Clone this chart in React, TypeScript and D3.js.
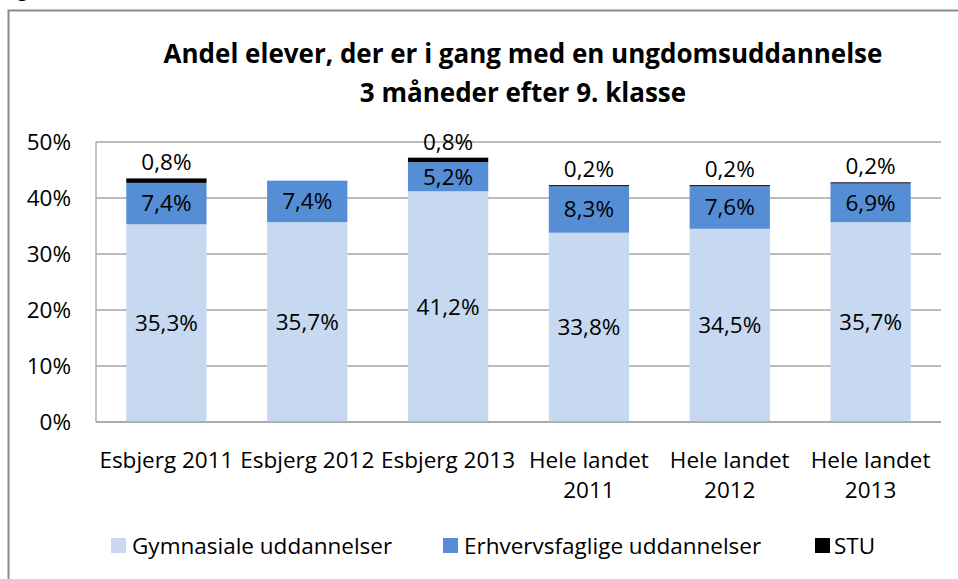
import React from 'react';
import * as d3 from 'd3';

const categories = ['Esbjerg 2011', 'Esbjerg 2012', 'Esbjerg 2013', 'Hele landet 2011', 'Hele landet 2012', 'Hele landet 2013'];
const categoryLines = [['Esbjerg 2011'], ['Esbjerg 2012'], ['Esbjerg 2013'], ['Hele landet', '2011'], ['Hele landet', '2012'], ['Hele landet', '2013']];
const gymnasiale = [35.3, 35.7, 41.2, 33.8, 34.5, 35.7];
const erhvervsfaglige = [7.4, 7.4, 5.2, 8.3, 7.6, 6.9];
const stu = [0.8, 0, 0.8, 0.2, 0.2, 0.2];
const seriesNames = ['Gymnasiale uddannelser', 'Erhvervsfaglige uddannelser', 'STU'];
const colors = ['#C6D9F1', '#558ED5', '#000000'];
const yTicks = [0, 10, 20, 30, 40, 50];
const titleLines = ['Andel elever, der er i gang med en ungdomsuddannelse', '3 måneder efter 9. klasse'];

const W = 958;
const H = 579;
const plot = { left: 96, right: 941, top: 142, bottom: 422 };
const font = '"Open Sans", Lato, sans-serif';
const fs = 22.5;

const fmt = (v: number) => v.toFixed(1).replace('.', ',') + '%';

export default function App() {
  const x = d3.scaleBand<string>().domain(categories).range([plot.left, plot.right]).paddingInner(0.43).paddingOuter(0.215);
  const y = d3.scaleLinear().domain([0, 50]).range([plot.bottom, plot.top]);

  const rows = categories.map((c, i) => ({ cat: c, g: gymnasiale[i], e: erhvervsfaglige[i], s: stu[i] }));
  const stack = d3.stack<any>().keys(['g', 'e', 's'])(rows);

  const legendItems = [
    { x: 111, tx: 132 },
    { x: 443, tx: 464 },
    { x: 815, tx: 834 },
  ];

  return (
    <svg width={W} height={H} style={{ position: 'absolute', left: 0, top: 0, background: '#fff' }} fontFamily={font}>
      <rect x={0} y={0} width={W} height={H} fill="#fff" />
      <text x={17} y={-4} fontSize={20} fill="#000">g</text>
      <rect x={8.5} y={10.5} width={1000} height={700} fill="#fff" stroke="#8c8c8c" strokeWidth={2} />

      {titleLines.map((t, i) => (
        <text key={t} x={523} y={63 + i * 39} textAnchor="middle" fontSize={26} fontWeight="bold" fill="#000">{t}</text>
      ))}

      {yTicks.map(t => (
        <g key={t}>
          <line x1={plot.left} x2={plot.right} y1={y(t)} y2={y(t)} stroke="#a6a6a6" strokeWidth={1.3} />
          <text x={71} y={y(t)} dy="0.35em" textAnchor="end" fontSize={fs} fill="#000">{t}%</text>
        </g>
      ))}
      <line x1={plot.left} x2={plot.left} y1={plot.top} y2={plot.bottom} stroke="#a6a6a6" strokeWidth={1.3} />

      {stack.map((layer, li) => (
        <g key={li} fill={colors[li]}>
          {layer.map((d, i) => {
            const h = y(d[0]) - y(d[1]);
            if (h <= 0) return null;
            return <rect key={i} x={x(categories[i])} y={y(d[1])} width={x.bandwidth()} height={h} />;
          })}
        </g>
      ))}
      <line x1={plot.left} x2={plot.right} y1={plot.bottom} y2={plot.bottom} stroke="#a6a6a6" strokeWidth={1.3} />

      {rows.map((r, i) => {
        const cx = (x(r.cat) as number) + x.bandwidth() / 2;
        const total = r.g + r.e + r.s;
        return (
          <g key={r.cat} fontSize={fs} fill="#000" textAnchor="middle">
            <text x={cx} y={y(r.g / 2)} dy="0.35em">{fmt(r.g)}</text>
            <text x={cx} y={y(r.g + r.e / 2)} dy="0.35em">{fmt(r.e)}</text>
            {r.s > 0 && <text x={cx} y={y(total) - 16} dy="0.35em">{fmt(r.s)}</text>}
          </g>
        );
      })}

      {categoryLines.map((lines, i) => {
        const cx = (x(categories[i]) as number) + x.bandwidth() / 2;
        return (
          <text key={i} x={cx} y={460} textAnchor="middle" fontSize={fs} fill="#000">
            {lines.map((l, j) => (
              <tspan key={j} x={cx} dy={j === 0 ? '0.35em' : 30}>{l}</tspan>
            ))}
          </text>
        );
      })}

      {seriesNames.map((n, i) => (
        <g key={n}>
          <rect x={legendItems[i].x} y={538} width={15} height={15} fill={colors[i]} />
          <text x={legendItems[i].tx} y={546} dy="0.35em" fontSize={fs} fill="#000">{n}</text>
        </g>
      ))}
    </svg>
  );
}
